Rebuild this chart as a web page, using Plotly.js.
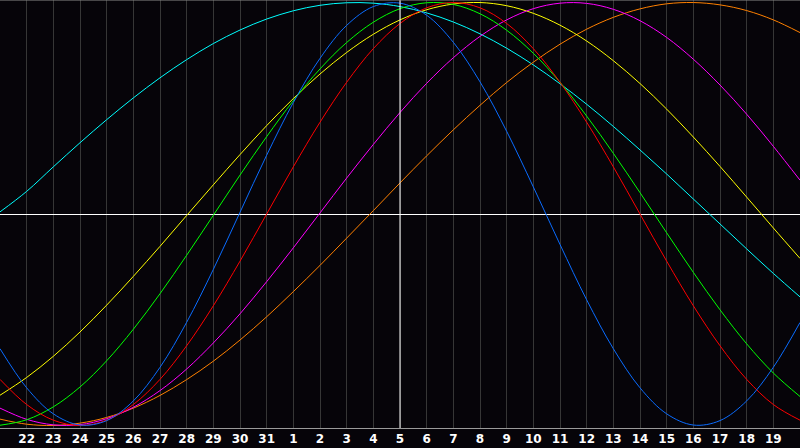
<!DOCTYPE html>
<html>
<head>
<meta charset="utf-8">
<script src="https://cdn.plot.ly/plotly-3.0.1.min.js"></script>
<style>
  html, body { margin: 0; padding: 0; background: #060409; }
  #chart { width: 800px; height: 448px; }
</style>
</head>
<body>
<div id="chart"></div>
<script>
// day slots across the chart, 0 = left edge, 30 = right edge
var dayIndex = [0,1,2,3,4,5,6,7,8,9,10,11,12,13,14,15,16,17,18,19,20,21,22,23,24,25,26,27,28,29,30];
var dayLabels = ["21","22","23","24","25","26","27","28","29","30","31","1","2","3","4","5","6","7","8","9","10","11","12","13","14","15","16","17","18","19","20"];
var todayIndex = 15;

// values, one per day
var cycle23 = [-0.637,-0.822,-0.945,-0.998,-0.977,-0.884,-0.725,-0.512,-0.262,0.008,0.278,0.527,0.736,0.892,0.981,0.997,0.940,0.812,0.625,0.391,0.128,-0.144,-0.406,-0.637,-0.822,-0.945,-0.998,-0.977,-0.884,-0.725,-0.513];
var cycle28 = [-0.782,-0.901,-0.975,-1.000,-0.975,-0.901,-0.782,-0.623,-0.434,-0.223,0.000,0.223,0.434,0.623,0.782,0.901,0.975,1.000,0.975,0.901,0.782,0.623,0.434,0.223,0.000,-0.223,-0.434,-0.623,-0.782,-0.901,-0.975];
var cycle33 = [-0.999,-0.973,-0.912,-0.818,-0.694,-0.545,-0.377,-0.195,-0.006,0.184,0.366,0.536,0.686,0.811,0.907,0.971,0.999,0.991,0.947,0.869,0.760,0.623,0.463,0.287,0.101,-0.089,-0.276,-0.453,-0.614,-0.752,-0.863];
var cycle38 = [-0.918,-0.971,-0.997,-0.996,-0.968,-0.914,-0.835,-0.733,-0.610,-0.472,-0.320,-0.160,0.005,0.170,0.329,0.480,0.618,0.739,0.840,0.918,0.971,0.997,0.996,0.968,0.914,0.835,0.732,0.610,0.472,0.320,0.160];
var cycle43 = [-0.857,-0.773,-0.673,-0.558,-0.431,-0.295,-0.153,-0.007,0.138,0.281,0.418,0.546,0.662,0.764,0.850,0.918,0.966,0.993,1.000,0.985,0.949,0.893,0.818,0.725,0.617,0.496,0.364,0.225,0.080,-0.066,-0.210];
var cycle48 = [-0.970,-0.994,-1.000,-0.989,-0.962,-0.918,-0.858,-0.783,-0.696,-0.596,-0.486,-0.367,-0.243,-0.114,0.016,0.147,0.275,0.398,0.514,0.622,0.718,0.803,0.874,0.930,0.970,0.994,1.000,0.989,0.962,0.918,0.858];
var cycle53 = [0.010,0.107,0.223,0.337,0.446,0.549,0.644,0.730,0.806,0.870,0.922,0.961,0.987,0.999,0.997,0.981,0.951,0.908,0.852,0.784,0.705,0.616,0.519,0.414,0.303,0.189,0.071,-0.047,-0.165,-0.281,-0.392];

var series = [
  { y: cycle53, color: '#00ffff' },
  { y: cycle48, color: '#ff8000' },
  { y: cycle43, color: '#ffff00' },
  { y: cycle38, color: '#ff00ff' },
  { y: cycle33, color: '#00ff00' },
  { y: cycle28, color: '#ff0000' },
  { y: cycle23, color: '#0a6cff' }
];

var data = series.map(function (s) {
  return {
    x: dayIndex,
    y: s.y,
    type: 'scatter',
    mode: 'lines',
    line: { color: s.color, width: 1, shape: 'spline', smoothing: 1 },
    hoverinfo: 'skip'
  };
});

var layout = {
  width: 800,
  height: 448,
  paper_bgcolor: '#060409',
  plot_bgcolor: '#060409',
  showlegend: false,
  margin: { l: 0, r: 0, t: 0, b: 20 },
  xaxis: {
    range: [0, 30],
    tickvals: dayIndex.slice(1, 30),
    ticktext: dayLabels.slice(1, 30),
    tickfont: { family: 'DejaVu Sans', size: 12, color: '#ffffff', weight: 700 },
    ticks: '',
    showgrid: true,
    gridcolor: '#363636',
    gridwidth: 1,
    zeroline: false,
    showline: true,
    linecolor: '#9a9a9a',
    linewidth: 1,
    fixedrange: true
  },
  yaxis: {
    range: [-1.012, 1.012],
    showticklabels: false,
    showgrid: false,
    zeroline: true,
    zerolinecolor: '#ffffff',
    zerolinewidth: 1,
    showline: true,
    linecolor: '#8a8a8a',
    linewidth: 1,
    mirror: false,
    fixedrange: true
  },
  shapes: [
    { type: 'line', xref: 'x', yref: 'paper', x0: todayIndex, x1: todayIndex, y0: 0, y1: 1,
      line: { color: '#ffffff', width: 1 } },
    { type: 'line', xref: 'paper', yref: 'paper', x0: 0, x1: 1, y0: 1, y1: 1,
      line: { color: '#8a8a8a', width: 1 } }
  ]
};

Plotly.newPlot('chart', data, layout, { displayModeBar: false, staticPlot: true });
</script>
</body>
</html>
